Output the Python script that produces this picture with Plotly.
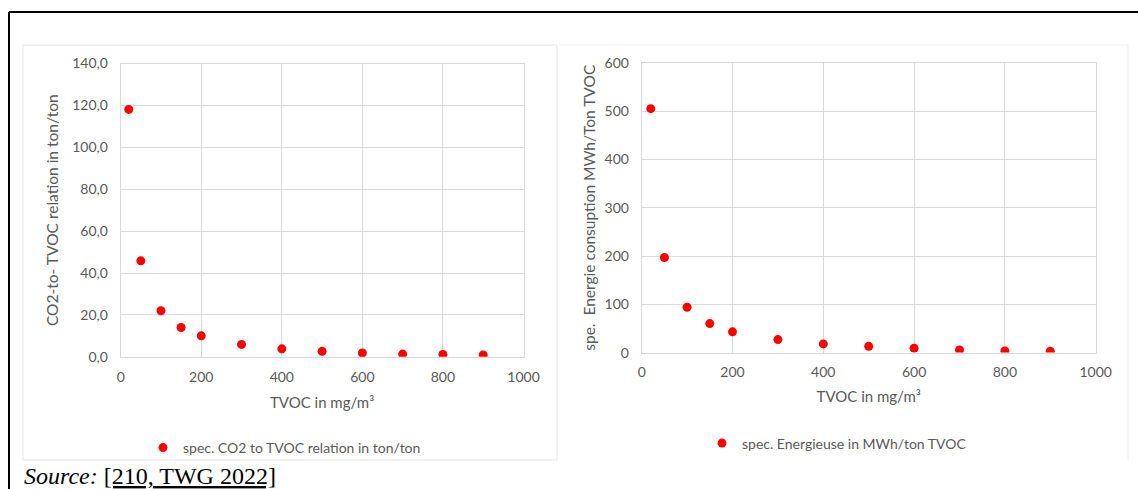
import plotly.graph_objects as go

W, H = 1138, 489

# ---- data ----
tvoc_left = [20, 50, 100, 150, 200, 300, 400, 500, 600, 700, 800, 900]
co2_ratio = [118.1, 45.8, 22.0, 14.0, 10.0, 5.9, 3.8, 2.6, 1.8, 1.3, 1.1, 0.9]
tvoc_right = [20, 50, 100, 150, 200, 300, 400, 500, 600, 700, 800, 900]
energy_use = [505, 197, 94, 60, 43, 27, 18, 13, 9, 5.5, 3.5, 3]

x_ticks = [0, 200, 400, 600, 800, 1000]
x_ticktext = ["0", "200", "400", "600", "800", "1000"]
yl_ticks = [0, 20, 40, 60, 80, 100, 120, 140]
yl_ticktext = ["0,0", "20,0", "40,0", "60,0", "80,0", "100,0", "120,0", "140,0"]
yr_ticks = [0, 100, 200, 300, 400, 500, 600]
yr_ticktext = ["0", "100", "200", "300", "400", "500", "600"]

series_left = "spec. CO2 to TVOC relation in ton/ton"
series_right = "spec. Energieuse in MWh/ton TVOC"
xtitle = "TVOC in mg/m³"
ytitle_left = "CO2-to- TVOC relation in ton/ton"
ytitle_right = "spe.&nbsp; Energie consuption MWh/Ton TVOC"
source_label = "Source:"
source_ref = "[210, TWG 2022]"

FONT = "Lato"
GRAY = "#595959"
GRID = "#d9d9d9"


def px(x):
    return min(max(x / W, 0), 1)


def py(y):
    return min(max(1 - y / H, 0), 1)


fig = go.Figure()
fig.add_trace(go.Scatter(x=tvoc_left, y=co2_ratio, mode="markers", name=series_left,
                         marker=dict(color="#ff0000", size=9), xaxis="x", yaxis="y",
                         legend="legend"))
fig.add_trace(go.Scatter(x=tvoc_right, y=energy_use, mode="markers", name=series_right,
                         marker=dict(color="#ff0000", size=9), xaxis="x2", yaxis="y2",
                         legend="legend2"))

axis_common = dict(showgrid=True, gridcolor=GRID, gridwidth=1, zeroline=False,
                   showline=True, linecolor=GRID, linewidth=1, mirror=True,
                   automargin=False,
                   ticks="", tickfont=dict(family=FONT, size=14, color=GRAY))
xtitle_font = dict(family=FONT, size=15, color=GRAY)
ytitle_font = dict(family=FONT, size=15.5, color=GRAY)

fig.update_layout(
    width=W, height=H,
    margin=dict(l=0, r=0, t=0, b=0, autoexpand=False),
    paper_bgcolor="white", plot_bgcolor="white",
    xaxis=dict(axis_common, domain=[px(120.7), px(523.5)], range=[0, 1000],
               tickvals=x_ticks, ticktext=x_ticktext, anchor="y", ticklabelstandoff=7,
               title=dict(text=xtitle, standoff=13, font=xtitle_font)),
    yaxis=dict(axis_common, domain=[py(356.8), py(63.5)], range=[0, 140],
               tickvals=yl_ticks, ticktext=yl_ticktext, anchor="x", ticklabelstandoff=9,
               title=dict(text=ytitle_left, standoff=9, font=ytitle_font)),
    xaxis2=dict(axis_common, domain=[px(641.7), px(1095.7)], range=[0, 1000],
                tickvals=x_ticks, ticktext=x_ticktext, anchor="y2", ticklabelstandoff=7,
                title=dict(text=xtitle, standoff=12, font=xtitle_font)),
    yaxis2=dict(axis_common, domain=[py(352.6), py(62.8)], range=[0, 600],
                tickvals=yr_ticks, ticktext=yr_ticktext, anchor="x2", ticklabelstandoff=9,
                title=dict(text=ytitle_right, standoff=5, font=ytitle_font)),
    legend=dict(orientation="h", x=px(143), y=py(448), xanchor="left", yanchor="middle",
                font=dict(family=FONT, size=14, color=GRAY), itemwidth=30,
                bgcolor="rgba(0,0,0,0)"),
    legend2=dict(orientation="h", x=px(702), y=py(443.5), xanchor="left", yanchor="middle",
                 font=dict(family=FONT, size=14, color=GRAY), itemwidth=30,
                 bgcolor="rgba(0,0,0,0)"),
    showlegend=True,
)

shapes = [
    # faint chart frames
    dict(type="rect", xref="paper", yref="paper", x0=px(23), x1=px(557), y0=py(460), y1=py(45),
         line=dict(color="#e3e3e3", width=1), layer="below"),
    dict(type="line", xref="paper", yref="paper", x0=px(559), x1=px(1128), y0=py(45), y1=py(45),
         line=dict(color="#eeeeee", width=1), layer="below"),
    dict(type="line", xref="paper", yref="paper", x0=px(1128), x1=px(1128), y0=py(460), y1=py(45),
         line=dict(color="#eeeeee", width=1), layer="below"),
    # outer black box (open at right/bottom edges of the image)
    dict(type="line", xref="paper", yref="paper", x0=px(9), x1=px(1138), y0=py(12), y1=py(12),
         line=dict(color="black", width=2)),
    dict(type="line", xref="paper", yref="paper", x0=px(9), x1=px(9), y0=py(12), y1=py(489),
         line=dict(color="black", width=2)),
]
fig.update_layout(shapes=shapes)

fig.add_annotation(xref="paper", yref="paper", x=px(22), y=py(476), xanchor="left",
                   yanchor="middle", showarrow=False,
                   text=f"<i>{source_label}</i> <u>{source_ref}</u>",
                   font=dict(family="Liberation Serif", size=24, color="black"))

fig.write_html(
    "out.html",
    config=dict(displayModeBar=False),
    post_script="document.body.style.margin='0';document.body.style.padding='0';"
                "document.body.style.overflow='hidden';",
)
